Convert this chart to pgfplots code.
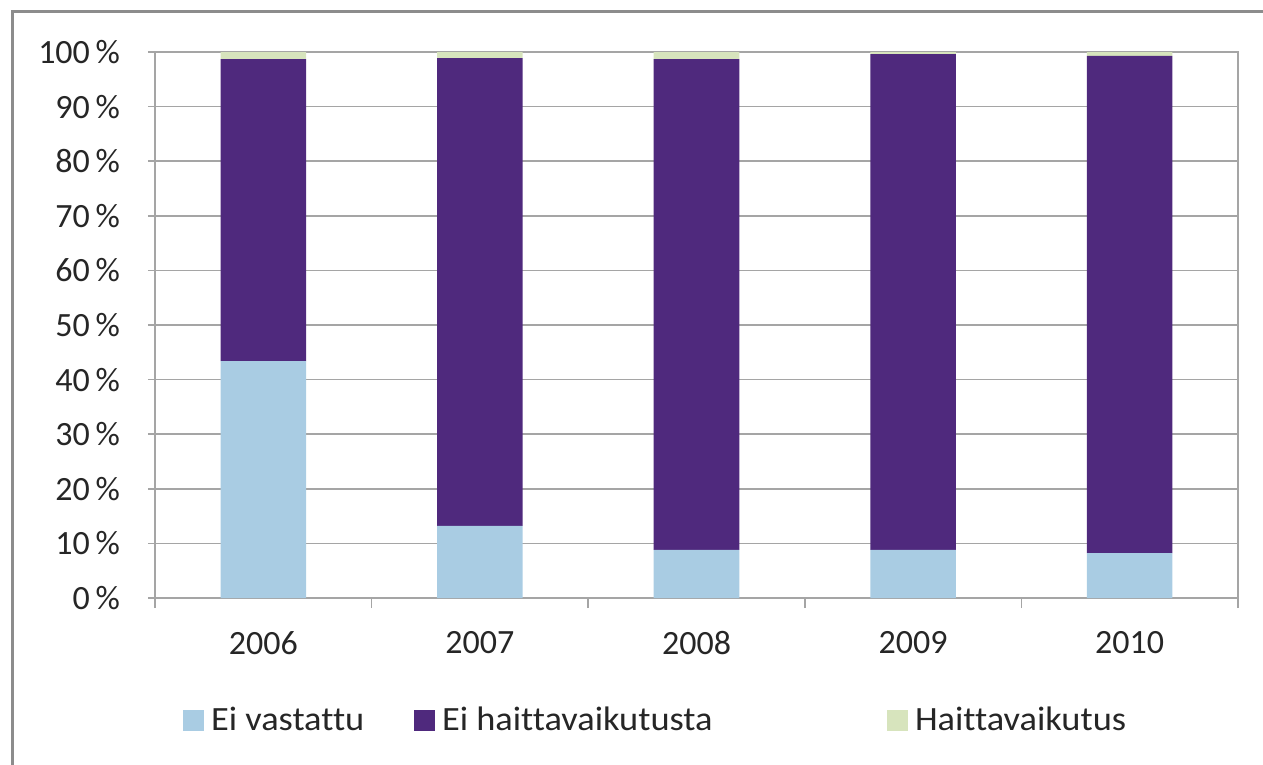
\documentclass[border=0pt]{standalone}
\usepackage{fontspec}
\setmainfont[Ligatures={NoCommon}]{Carlito}
\newfontfamily\legfont[Ligatures={NoCommon},FakeStretch=1.07]{Carlito}
\usepackage{pgfplots}
\pgfplotsset{compat=1.18}
\definecolor{cA}{RGB}{169,204,227}
\definecolor{cB}{RGB}{79,41,125}
\definecolor{cC}{RGB}{215,228,189}
\definecolor{gridc}{RGB}{165,165,165}
\definecolor{framec}{RGB}{140,140,140}
\pgfplotsset{sq/.style={legend image code/.code={\fill[##1] (0pt,-5.25pt) rectangle (10.5pt,5.25pt);}}}
\begin{document}
\begin{tikzpicture}
\path[use as bounding box] (0,0) rectangle (631.5pt,-382.5pt);
\draw[framec, line width=1.5pt] (6pt,-382.5pt) -- (6pt,-6pt) -- (631.5pt,-6pt);
\begin{axis}[
  at={(77.5pt,-299pt)}, anchor=south west,
  width=541.5pt, height=273pt, scale only axis,
  ybar stacked, bar width=0.395,
  xmin=-0.5, xmax=4.5, ymin=0, ymax=100,
  xtick={0,...,4}, xticklabels={2006,2007,2008,2009,2010},
  minor xtick={-0.5,0.5,...,4.5},
  ytick={0,10,...,100},
  yticklabels={0\,\%,10\,\%,20\,\%,30\,\%,40\,\%,50\,\%,60\,\%,70\,\%,80\,\%,90\,\%,100\,\%},
  ymajorgrids, grid style={gridc, line width=0.8pt},
  axis line style={gridc, line width=0.8pt},
  tick style={gridc, line width=0.8pt},
  tick align=outside, tick pos=left,
  major x tick style={draw=none},
  major tick length=3.5pt, minor tick length=5pt,
  tick label style={font=\fontsize{17}{20}\selectfont, text=black!85},
  yticklabel style={xshift=-10.5pt},
  xticklabel style={yshift=-9.5pt},
  legend columns=3,
  legend style={draw=none, fill=none, inner sep=0pt, outer sep=0pt,
    at={(0.0259,-0.2235)}, anchor=west,
    font=\legfont\fontsize{17}{20}\selectfont, text=black!85,
    nodes={inner sep=0pt, anchor=west},
    /tikz/every odd column/.style={column sep=3.5pt},
    /tikz/every even column/.style={column sep=0pt}},
]
\addplot+[sq, fill=cA, draw=none] coordinates {(0,43.4) (1,13.2) (2,8.8) (3,8.8) (4,8.2)};
\addlegendentry{\makebox[101.5pt][l]{Ei vastattu}}
\addplot+[sq, fill=cB, draw=none] coordinates {(0,55.3) (1,85.7) (2,89.9) (3,90.8) (4,91.1)};
\addlegendentry{\makebox[222.5pt][l]{Ei haittavaikutusta}}
\addplot+[sq, fill=cC, draw=none] coordinates {(0,1.3) (1,1.1) (2,1.3) (3,0.4) (4,0.7)};
\addlegendentry{Haittavaikutus}
\end{axis}
\end{tikzpicture}
\end{document}
